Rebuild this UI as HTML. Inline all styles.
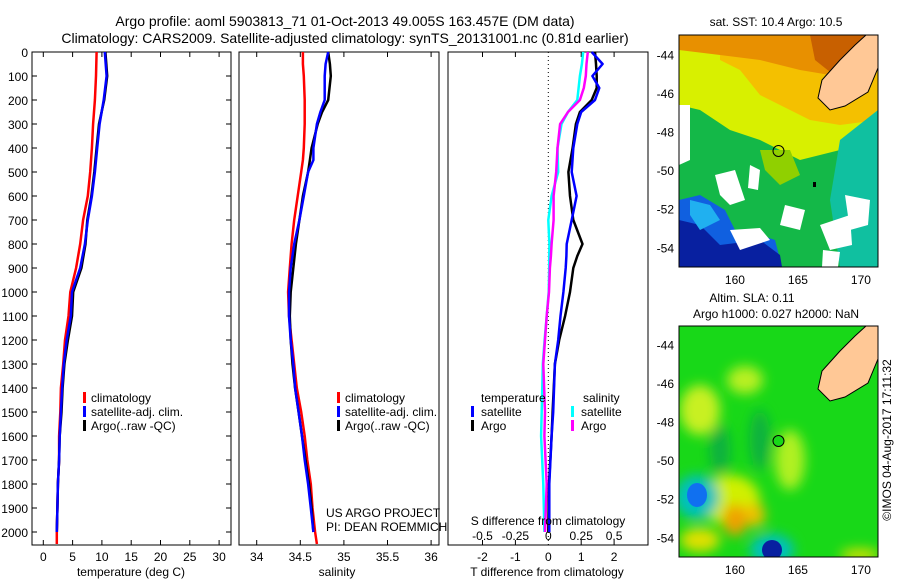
<!DOCTYPE html>
<html><head><meta charset="utf-8"><style>
body{margin:0;background:#fff;width:900px;height:580px;overflow:hidden}
svg{display:block;font-family:"Liberation Sans",sans-serif}
</style></head><body>
<svg id="c" width="900" height="580" viewBox="0 0 900 580">
<text x="345" y="26" font-size="14" text-anchor="middle">Argo profile: aoml 5903813_71 01-Oct-2013 49.005S 163.457E (DM data)</text>
<text x="345" y="43" font-size="14" text-anchor="middle">Climatology: CARS2009. Satellite-adjusted climatology: synTS_20131001.nc (0.81d earlier)</text>
<g id="plots"></g>
<g>
<text x="776" y="26" font-size="12" text-anchor="middle">sat. SST: 10.4 Argo: 10.5</text>
<clipPath id="m1"><rect x="679" y="35" width="199" height="232"/></clipPath>
<g clip-path="url(#m1)">
<rect x="679" y="35" width="199" height="232" fill="#14b848"/>
<polygon points="679,35 878,35 878,140 840,150 800,160 780,150 760,140 730,130 700,110 679,105" fill="#d8f000"/>
<polygon points="720,35 878,35 878,120 840,125 810,120 790,110 760,95 740,70 720,60" fill="#f4c000"/>
<polygon points="679,35 878,35 878,55 830,75 800,70 760,60 720,55 679,50" fill="#e89000"/>
<polygon points="810,35 878,35 878,60 840,80 815,60" fill="#c86000"/>
<polygon points="760,150 790,150 800,175 780,185 765,170" fill="#90d000"/>
<polygon points="840,140 878,110 878,267 840,267 830,200" fill="#10c0a0"/>
<polygon points="679,200 700,195 725,210 735,230 760,235 775,240 782,267 679,267" fill="#1060e0"/>
<polygon points="679,220 700,225 720,245 760,240 780,255 782,267 679,267" fill="#0820a0"/>
<polygon points="690,200 710,205 720,220 700,230 690,215" fill="#20b0f0"/>
<polygon points="679,105 690,105 690,160 679,165" fill="#fff"/>
<polygon points="715,175 735,170 745,200 730,205 720,195" fill="#fff"/>
<polygon points="750,165 760,170 758,190 748,188" fill="#fff"/>
<polygon points="785,205 805,210 800,230 780,225" fill="#fff"/>
<polygon points="730,230 760,228 770,240 740,250" fill="#fff"/>
<polygon points="820,225 850,215 852,245 830,250" fill="#fff"/>
<polygon points="845,195 870,200 868,225 850,230" fill="#fff"/>
<polygon points="823,250 840,252 838,267 822,267" fill="#fff"/>
<polygon points="866,35 878,35 878,68 868,92 845,106 830,110 818,98 822,80 840,60 855,45" fill="#ffc896" stroke="#000" stroke-width="1"/>
<circle cx="778.5" cy="151" r="5.5" fill="none" stroke="#000"/>
<rect x="813" y="182" width="3" height="5" fill="#000"/>
</g>
<rect x="679" y="35" width="199" height="232" fill="none" stroke="#000"/>
</g>
<g>
<text x="752" y="302" font-size="12" text-anchor="middle">Altim. SLA: 0.11</text>
<text x="776" y="318" font-size="12" text-anchor="middle">Argo h1000: 0.027 h2000: NaN</text>
<clipPath id="m2"><rect x="679" y="326" width="199" height="231"/></clipPath>
<filter id="bl"><feGaussianBlur stdDeviation="6"/></filter>
<g clip-path="url(#m2)">
<rect x="679" y="326" width="199" height="231" fill="#18d818"/>
<g filter="url(#bl)">
<ellipse cx="700" cy="410" rx="20" ry="25" fill="#c8f020"/>
<ellipse cx="745" cy="380" rx="18" ry="14" fill="#b8f020"/>
<ellipse cx="790" cy="460" rx="15" ry="30" fill="#b0f020"/>
<ellipse cx="730" cy="500" rx="30" ry="25" fill="#d0f000"/>
<ellipse cx="735" cy="520" rx="12" ry="16" fill="#f0a000"/>
<ellipse cx="755" cy="515" rx="10" ry="12" fill="#f0c000"/>
<ellipse cx="700" cy="540" rx="20" ry="12" fill="#e0e000"/>
<ellipse cx="860" cy="555" rx="20" ry="6" fill="#e0e000"/>
<ellipse cx="760" cy="440" rx="10" ry="30" fill="#10b040"/>
<ellipse cx="720" cy="450" rx="10" ry="25" fill="#10b040"/>
<ellipse cx="697" cy="497" rx="22" ry="22" fill="#00c0c0"/>
<ellipse cx="772" cy="550" rx="22" ry="16" fill="#00c0c0"/>
</g>
<ellipse cx="697" cy="495" rx="10" ry="12" fill="#1070f0"/>
<ellipse cx="772" cy="550" rx="10" ry="10" fill="#0820a0"/>
<polygon points="866,326 878,326 878,359 868,383 845,397 830,401 818,389 822,371 840,351 855,336" fill="#ffc896" stroke="#000" stroke-width="1"/>
<circle cx="778.5" cy="441" r="5.5" fill="#18d818" stroke="#000"/>
</g>
<rect x="679" y="326" width="199" height="231" fill="none" stroke="#000"/>
</g>
<text transform="translate(891,440) rotate(-90)" font-size="12" text-anchor="middle">©IMOS 04-Aug-2017 17:11:32</text>
</svg>
<script>
const tDepth=[0,100,200,300,400,500,600,700,800,900,1000,1100,1200,1300,1400,1500,1600,1700,1800,1900,2000,2050];
const tClim=[9.1,9.0,8.8,8.5,8.3,8.0,7.6,6.8,6.3,5.6,4.6,4.3,3.7,3.4,3.0,2.9,2.7,2.7,2.5,2.4,2.3,2.3];
const tSat=[10.5,10.8,10.3,9.6,9.2,8.8,8.3,7.6,7.1,6.3,4.9,4.7,4.0,3.5,3.2,3.0,2.8,2.7,2.5,2.4,2.3];
const tArgo=[10.6,10.9,10.4,9.5,9.1,8.7,8.2,7.5,7.2,6.5,5.1,4.9,4.2,3.6,3.3,3.1,2.8,2.7,2.5,2.4,2.3];
const sDepth=[0,50,100,200,250,300,400,450,500,600,700,800,900,1000,1100,1200,1300,1400,1500,1600,1700,1800,1900,2000,2050];
const sClim=[34.53,34.53,34.54,34.55,34.55,34.55,34.54,34.53,34.51,34.47,34.43,34.40,34.38,34.36,34.37,34.40,34.43,34.46,34.51,34.55,34.58,34.62,34.64,34.67,34.69];
const sSat=[34.82,34.79,34.78,34.78,34.73,34.69,34.65,34.65,34.59,34.54,34.49,34.43,34.39,34.37,34.37,34.39,34.42,34.44,34.48,34.52,34.55,34.59,34.62,34.65];
const sArgo=[34.82,34.84,34.85,34.82,34.75,34.70,34.63,34.61,34.59,34.53,34.49,34.45,34.42,34.39,34.38,34.39,34.41,34.44,34.48,34.52,34.56,34.60,34.63,34.65];
const dDepth=[0,50,100,150,200,250,300,400,500,600,700,800,850,900,1000,1100,1200,1300,1500,1600,1800,2000];
const dTSat=[1.32,1.65,1.34,1.55,1.42,1.0,0.88,0.76,0.71,0.86,0.71,0.56,0.55,0.53,0.46,0.37,0.30,0.20,0.15,0.10,0.03,0.03];
const dTArgo=[1.42,1.45,1.47,1.47,1.32,0.96,0.84,0.74,0.61,0.66,0.76,1.04,0.88,0.76,0.66,0.51,0.33,0.20,0.13,0.10,0.02,0.0];
const dSArgo=[0.30,0.29,0.285,0.27,0.24,0.15,0.09,0.07,0.06,0.04,0.04,0.025,0.02,0.012,0.005,-0.012,-0.025,-0.038,-0.025,-0.03,-0.012,-0.025];
const dSSat=[0.265,0.255,0.24,0.23,0.22,0.15,0.10,0.07,0.075,0.025,0.0,0.008,0.007,0.007,0.003,-0.012,-0.028,-0.042,-0.05,-0.055,-0.038,-0.03];
const depthTicks=[0,100,200,300,400,500,600,700,800,900,1000,1100,1200,1300,1400,1500,1600,1700,1800,1900,2000];
const tTicks=[0,5,10,15,20,25,30];
const sTicks=[34,34.5,35,35.5,36];
const tdTicks=[-2,-1,0,1,2];
const sdTicks=[-0.5,-0.25,0,0.25,0.5];
const NS='http://www.w3.org/2000/svg';
const G=document.getElementById('plots');
const Y=d=>52+d*0.24;
const BOT=545;
function el(tag,attrs,parent){const e=document.createElementNS(NS,tag);for(const k in attrs)e.setAttribute(k,attrs[k]);(parent||G).appendChild(e);return e;}
function txt(x,y,s,anchor,size){const t=el('text',{x:x,y:y,'font-size':size||12,'text-anchor':anchor||'middle'});t.textContent=s;return t;}
function step(xs,ds,X,color,name,w){
  let p='';const n=Math.min(xs.length,ds.length);
  for(let i=0;i<n;i++){p+=(i?'L':'M')+X(xs[i]).toFixed(1)+','+Y(ds[i]).toFixed(1);}
  const e=el('path',{d:p,fill:'none',stroke:color,'stroke-width':w||2.5,'stroke-linejoin':'round'});
  
  
}
function frame(x0,x1,name){const r=el('rect',{x:x0,y:52,width:x1-x0,height:BOT-52,fill:'none',stroke:'#000'});
  
  }
function xticks(vals,X,labels,yl){vals.forEach((v,i)=>{const x=X(v);el('line',{x1:x,x2:x,y1:52,y2:57,stroke:'#000'});el('line',{x1:x,x2:x,y1:BOT,y2:BOT-5,stroke:'#000'});
  if(labels){const t=txt(x,yl,labels[i]);}});}
const XT=v=>43.3+v*5.86;
frame(32,231,'temperature-panel');
depthTicks.forEach(d=>{const y=Y(d);el('line',{x1:32,x2:37,y1:y,y2:y,stroke:'#000'});el('line',{x1:231,x2:226,y1:y,y2:y,stroke:'#000'});
  const t=txt(28,y+5,String(d),'end',12);});
xticks(tTicks,XT,tTicks.map(String),561);
step(tClim,tDepth,XT,'#f00','temp-climatology-line');
step(tArgo,tDepth,XT,'#000','temp-argo-line');
step(tSat,tDepth,XT,'#00f','temp-satellite-line');
txt(131,576,'temperature (deg C)');
function legend(x,y,prefix){[['#f00','climatology'],['#00f','satellite-adj. clim.'],['#000','Argo(..raw -QC)']].forEach((it,i)=>{
  el('rect',{x:x,y:y+i*14-10,width:3,height:11,fill:it[0]});
  const t=txt(x+8,y+i*14,it[1],'start',12);});}
legend(83,402,'temp');
const XS=v=>256.7+(v-34)*87.2;
frame(239,439,'salinity-panel');
xticks(sTicks,XS,sTicks.map(String),561);
step(sClim,sDepth,XS,'#f00','sal-climatology-line');
step(sArgo,sDepth,XS,'#000','sal-argo-line');
step(sSat,sDepth,XS,'#00f','sal-satellite-line');
txt(337,576,'salinity');
legend(337,402,'sal');
txt(326,517,'US ARGO PROJECT','start',12);
txt(326,531,'PI: DEAN ROEMMICH','start',12);
const XD=v=>548.3+v*32.9;
const XSD=v=>548.3+v*4*32.9;
frame(448,648,'difference-panel');
xticks([-2,-1,1,2],XD,null,0);
tdTicks.forEach(v=>{const t=txt(XD(v),561,String(v));});
sdTicks.forEach(v=>{const t=txt(XSD(v),540,String(v));});
el('line',{x1:XD(0),x2:XD(0),y1:52,y2:BOT,stroke:'#000','stroke-dasharray':'1,3'});
step(dSSat,dDepth,XSD,'#0ff','s-diff-satellite-line');
step(dSArgo,dDepth,XSD,'#f0f','s-diff-argo-line');
step(dTArgo,dDepth,XD,'#000','t-diff-argo-line');
step(dTSat,dDepth,XD,'#00f','t-diff-satellite-line');
txt(547,576,'T difference from climatology');
txt(548,525,'S difference from climatology');
txt(481,402,'temperature','start');txt(583,402,'salinity','start');
[['#00f','satellite',471],['#000','Argo',471],['#0ff','satellite',571],['#f0f','Argo',571]].forEach((it,i)=>{
  const yy=416+(i%2)*14;el('rect',{x:it[2],y:yy-10,width:3,height:11,fill:it[0]});
  const t=txt(it[2]+10,yy,it[1],'start');});
function mapAxes(top,bot,yOf44){
  [160,165,170].forEach(l=>{const x=679+(l-155.56)*12.6;el('line',{x1:x,x2:x,y1:bot,y2:bot-4,stroke:'#000'});el('line',{x1:x,x2:x,y1:top,y2:top+4,stroke:'#000'});
    const t=txt(x,bot+17,String(l));});
  [-44,-46,-48,-50,-52,-54].forEach(l=>{const y=yOf44+(-44-l)*19.3;el('line',{x1:679,x2:683,y1:y,y2:y,stroke:'#000'});el('line',{x1:878,x2:874,y1:y,y2:y,stroke:'#000'});
    const t=txt(674,y+5,String(l),'end');});
}
mapAxes(35,267,54.3);mapAxes(326,557,344.3);
</script>
</body></html>
